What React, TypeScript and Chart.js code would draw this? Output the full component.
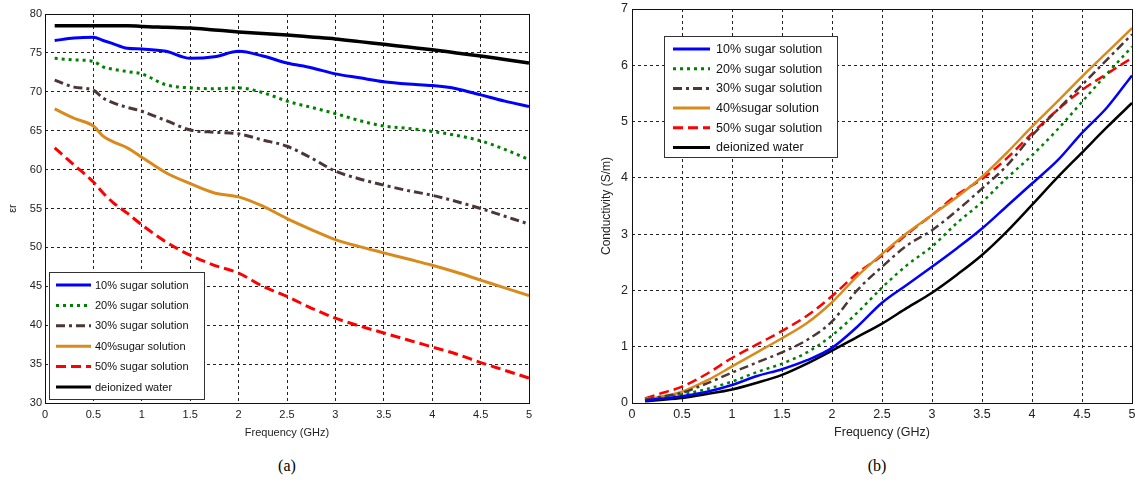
import React, { useEffect, useRef } from "react";
import { Chart, registerables } from "chart.js";

Chart.register(...registerables);

// ---------- shared ----------
const seriesLabels = [
  "10% sugar solution",
  "20% sugar solution",
  "30% sugar solution",
  "40%sugar solution",
  "50% sugar solution",
  "deionized water",
];

const xTickValues = [0, 0.5, 1, 1.5, 2, 2.5, 3, 3.5, 4, 4.5, 5];
const xTickLabels = ["0", "0.5", "1", "1.5", "2", "2.5", "3", "3.5", "4", "4.5", "5"];

// ---------- (a) permittivity ----------
const freqA = [0.1, 0.3, 0.5, 0.6, 0.7, 0.85, 1.0, 1.25, 1.5, 1.75, 2.0, 2.25, 2.5, 2.75, 3.0, 3.25, 3.5, 3.75, 4.0, 4.25, 4.5, 4.75, 5.0];
const eps10 = [76.6, 76.9, 77.0, 76.6, 76.2, 75.6, 75.5, 75.2, 74.3, 74.5, 75.2, 74.6, 73.7, 73.1, 72.3, 71.8, 71.3, 71.0, 70.8, 70.4, 69.6, 68.8, 68.1];
const eps20 = [74.3, 74.1, 73.9, 73.2, 72.9, 72.6, 72.3, 70.9, 70.5, 70.4, 70.5, 69.9, 68.8, 68.0, 67.2, 66.3, 65.6, 65.3, 64.9, 64.4, 63.7, 62.6, 61.3];
const eps30 = [71.5, 70.6, 70.2, 69.2, 68.6, 68.0, 67.5, 66.3, 65.1, 64.8, 64.6, 63.8, 63.0, 61.5, 59.8, 58.8, 58.0, 57.3, 56.7, 55.9, 55.0, 54.0, 53.0];
const eps40 = [67.8, 66.6, 65.6, 64.3, 63.6, 62.8, 61.6, 59.6, 58.2, 57.0, 56.5, 55.3, 53.7, 52.3, 51.0, 50.1, 49.3, 48.5, 47.7, 46.8, 45.8, 44.8, 43.8];
const eps50 = [62.8, 60.6, 58.4, 57.0, 55.8, 54.4, 52.9, 50.7, 49.0, 47.7, 46.7, 45.0, 43.7, 42.2, 40.9, 39.9, 39.0, 38.1, 37.2, 36.3, 35.2, 34.2, 33.2];
const epsWater = [78.5, 78.5, 78.5, 78.5, 78.5, 78.5, 78.4, 78.3, 78.2, 77.95, 77.7, 77.5, 77.3, 77.05, 76.8, 76.45, 76.1, 75.75, 75.4, 75.0, 74.6, 74.15, 73.7];
const yTicksA = [30, 35, 40, 45, 50, 55, 60, 65, 70, 75, 80];

// ---------- (b) conductivity ----------
const freqB = [0.13, 0.25, 0.5, 0.75, 1.0, 1.25, 1.5, 1.75, 2.0, 2.25, 2.5, 2.75, 3.0, 3.25, 3.5, 3.75, 4.0, 4.25, 4.5, 4.75, 5.0];
const sig10 = [0.04, 0.07, 0.12, 0.2, 0.32, 0.48, 0.6, 0.76, 0.98, 1.35, 1.78, 2.1, 2.42, 2.75, 3.1, 3.5, 3.9, 4.3, 4.8, 5.25, 5.82];
const sig20 = [0.05, 0.08, 0.15, 0.25, 0.38, 0.55, 0.7, 0.9, 1.2, 1.6, 2.05, 2.45, 2.78, 3.2, 3.57, 4.0, 4.4, 4.85, 5.35, 5.85, 6.33];
const sig30 = [0.06, 0.1, 0.18, 0.35, 0.54, 0.72, 0.9, 1.12, 1.45, 2.0, 2.42, 2.8, 3.07, 3.42, 3.81, 4.22, 4.75, 5.2, 5.65, 6.1, 6.55];
const sig40 = [0.07, 0.1, 0.2, 0.4, 0.65, 0.9, 1.15, 1.42, 1.79, 2.25, 2.65, 3.02, 3.34, 3.66, 4.02, 4.45, 4.91, 5.35, 5.8, 6.23, 6.66];
const sig50 = [0.08, 0.15, 0.29, 0.52, 0.8, 1.04, 1.28, 1.55, 1.9, 2.3, 2.62, 3.0, 3.34, 3.7, 3.98, 4.35, 4.79, 5.2, 5.56, 5.85, 6.13];
const sigWater = [0.03, 0.05, 0.09, 0.16, 0.24, 0.36, 0.5, 0.7, 0.93, 1.17, 1.41, 1.69, 1.96, 2.28, 2.63, 3.05, 3.52, 4.0, 4.45, 4.9, 5.33];
const yTicksB = [0, 1, 2, 3, 4, 5, 6, 7];

const lineStyles = [
  { color: "#0000ff", dash: [] as number[] },
  { color: "#008000", dash: [3, 4] },
  { color: "#4d3636", dash: [9, 4, 3, 4] },
  { color: "#d98a1c", dash: [] as number[] },
  { color: "#ff0000", dash: [10, 5] },
  { color: "#000000", dash: [] as number[] },
];

const FONT = "'Liberation Sans', Arial, sans-serif";

const frameLegendPlugin = {
  id: "frameLegend",
  afterDatasetsDraw(chart: any) {
    const { ctx, chartArea: a } = chart;
    ctx.save();
    ctx.setLineDash([]);
    ctx.strokeStyle = "#111";
    ctx.lineWidth = 1;
    ctx.strokeRect(
      Math.round(a.left) + 0.5,
      Math.round(a.top) + 0.5,
      Math.round(a.right - a.left),
      Math.round(a.bottom - a.top)
    );
    ctx.restore();
  },
  afterDraw(chart: any, _args: any, opts: any) {
    const { ctx } = chart;
    ctx.save();
    ctx.setLineDash([]);
    ctx.fillStyle = "#fff";
    ctx.fillRect(opts.x, opts.y, opts.w, opts.h);
    ctx.strokeStyle = "#333";
    ctx.lineWidth = 1;
    ctx.strokeRect(opts.x + 0.5, opts.y + 0.5, opts.w, opts.h);
    chart.data.datasets.forEach((ds: any, i: number) => {
      const yy = opts.y + opts.first + i * opts.gap;
      ctx.beginPath();
      ctx.setLineDash(ds.borderDash || []);
      ctx.strokeStyle = ds.borderColor;
      ctx.lineWidth = opts.sampleWidth;
      ctx.lineCap = "butt";
      ctx.moveTo(opts.lineX0, yy);
      ctx.lineTo(opts.lineX1, yy);
      ctx.stroke();
      ctx.setLineDash([]);
      ctx.fillStyle = "#111";
      ctx.font = `${opts.fontSize}px ${FONT}`;
      ctx.textBaseline = "middle";
      ctx.textAlign = "left";
      ctx.fillText(ds.label, opts.textX, yy + 0.5);
    });
    ctx.restore();
  },
};

function makeDatasets(freq: number[], series: number[][], widths: number[]) {
  return series.map((vals, i) => ({
    label: seriesLabels[i],
    data: vals.map((v, j) => ({ x: freq[j], y: v })),
    borderColor: lineStyles[i].color,
    backgroundColor: lineStyles[i].color,
    borderDash: lineStyles[i].dash,
    borderWidth: widths[i],
    borderCapStyle: "butt",
    borderJoinStyle: "round",
    pointRadius: 0,
    fill: false,
    cubicInterpolationMode: "monotone",
  }));
}

function buildConfig(p: any) {
  return {
    type: "line",
    data: { datasets: makeDatasets(p.freq, p.series, p.widths) },
    plugins: [frameLegendPlugin],
    options: {
      responsive: false,
      animation: false,
      events: [],
      layout: { padding: p.padding },
      plugins: {
        legend: { display: false },
        tooltip: { enabled: false },
        frameLegend: p.legend,
      },
      scales: {
        x: {
          type: "linear",
          min: 0,
          max: 5,
          afterBuildTicks: (scale: any) => {
            scale.ticks = xTickValues.map((v) => ({ value: v }));
          },
          afterFit: (scale: any) => {
            scale.height = p.xAxisHeight;
          },
          ticks: {
            autoSkip: false,
            maxRotation: 0,
            padding: p.xTickPad,
            color: "#222",
            font: { family: FONT, size: p.fontSize },
            callback: (v: number) => xTickLabels[xTickValues.indexOf(v)] ?? String(v),
          },
          grid: { color: "#222", lineWidth: 1, drawTicks: false },
          border: { display: false, dash: [3, 3] },
          title: {
            display: true,
            text: "Frequency (GHz)",
            color: "#222",
            font: { family: FONT, size: p.fontSize },
            padding: { top: 0, bottom: p.xTitlePad },
          },
        },
        y: {
          type: "linear",
          min: p.yTicks[0],
          max: p.yTicks[p.yTicks.length - 1],
          afterBuildTicks: (scale: any) => {
            scale.ticks = p.yTicks.map((v: number) => ({ value: v }));
          },
          afterFit: (scale: any) => {
            scale.width = p.yAxisWidth;
          },
          ticks: {
            autoSkip: false,
            padding: p.yTickPad,
            color: "#222",
            font: { family: FONT, size: p.fontSize },
            callback: (v: number) => String(v),
          },
          grid: { color: "#222", lineWidth: 1, drawTicks: false },
          border: { display: false, dash: [3, 3] },
          title: {
            display: true,
            text: p.yTitle,
            color: "#222",
            font: { family: FONT, size: p.yTitleSize },
            padding: { top: p.yTitlePad, bottom: 0 },
          },
        },
      },
    },
  };
}

function ChartCanvas(props: { cfg: any; left: number; top: number; width: number; height: number }) {
  const ref = useRef<HTMLCanvasElement | null>(null);
  useEffect(() => {
    if (!ref.current) return;
    const chart = new Chart(ref.current, props.cfg as any);
    return () => chart.destroy();
  }, []);
  return (
    <canvas
      ref={ref}
      width={props.width}
      height={props.height}
      style={{
        position: "absolute",
        left: props.left,
        top: props.top,
        width: props.width,
        height: props.height,
      }}
    />
  );
}

const cfgA = buildConfig({
  freq: freqA,
  series: [eps10, eps20, eps30, eps40, eps50, epsWater],
  widths: [3, 3, 3, 3, 3, 3.5],
  yTicks: yTicksA,
  yTitle: "εr",
  padding: { top: 14, right: 16, left: 0, bottom: 0 },
  xAxisHeight: 42,
  yAxisWidth: 45,
  xTickPad: 5,
  yTickPad: 3,
  xTitlePad: 5,
  yTitlePad: 6,
  fontSize: 11,
  yTitleSize: 11,
  legend: {
    x: 49, y: 272, w: 155, h: 127,
    first: 13, gap: 20.4,
    lineX0: 56, lineX1: 91, textX: 95,
    fontSize: 11, sampleWidth: 3,
  },
});

const cfgB = buildConfig({
  freq: freqB,
  series: [sig10, sig20, sig30, sig40, sig50, sigWater],
  widths: [2.5, 2.5, 2.5, 2.5, 2.5, 2.5],
  yTicks: yTicksB,
  yTitle: "Conductivity (S/m)",
  padding: { top: 19, right: 7, left: 0, bottom: 0 },
  xAxisHeight: 42,
  yAxisWidth: 42,
  xTickPad: 4.5,
  yTickPad: 4,
  xTitlePad: 4.5,
  yTitlePad: 9,
  fontSize: 12.5,
  yTitleSize: 12,
  legend: {
    x: 74, y: 46, w: 173, h: 121,
    first: 13, gap: 19.7,
    lineX0: 83, lineX1: 120, textX: 126,
    fontSize: 12.5, sampleWidth: 3,
  },
});

export default function App() {
  return (
    <div
      style={{
        position: "absolute",
        left: 0,
        top: 0,
        width: 1135,
        height: 480,
        overflow: "hidden",
        background: "#fff",
      }}
    >
      <ChartCanvas cfg={cfgA} left={0} top={0} width={545} height={445} />
      <ChartCanvas cfg={cfgB} left={590} top={-10} width={550} height={455} />
      <div
        style={{
          position: "absolute",
          left: 237,
          width: 100,
          top: 456,
          textAlign: "center",
          fontFamily: "'Liberation Serif', 'Times New Roman', serif",
          fontSize: 16,
          lineHeight: "20px",
        }}
      >
        (a)
      </div>
      <div
        style={{
          position: "absolute",
          left: 827,
          width: 100,
          top: 456,
          textAlign: "center",
          fontFamily: "'Liberation Serif', 'Times New Roman', serif",
          fontSize: 16,
          lineHeight: "20px",
        }}
      >
        (b)
      </div>
    </div>
  );
}
